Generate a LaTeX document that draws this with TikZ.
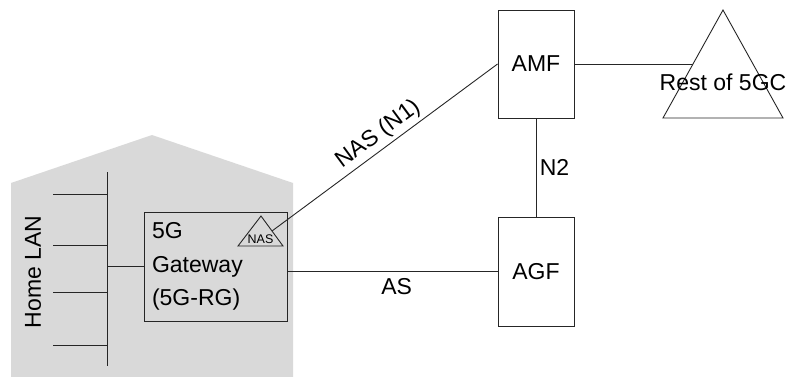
\documentclass[tikz,border=0pt]{standalone}
\usepackage{fontspec}
\setmainfont{Liberation Sans}
\usetikzlibrary{calc}

\newcommand{\busx}{107}
\newcommand{\corex}{723}

\tikzset{
  link/.style={draw=black!85, line width=0.9pt},
  box/.style={draw=black!85, line width=0.9pt, minimum width=76pt, minimum height=108pt},
}

\begin{document}
\begin{tikzpicture}[x=1pt, y=-1pt, font=\fontsize{23}{33.5}\selectfont]
\useasboundingbox (0,0) rectangle (792,377);

%% house
\fill[black!15] (11,377) -- (11,183) -- (152,135) -- (293,183) -- (293,377) -- cycle;

%% home LAN
\coordinate (bustop) at (\busx,172);
\coordinate (busend) at (\busx,366);
\draw[link] (bustop) -- (busend);
\foreach \y in {194,245,292,345}
  \draw[link] (53,\y) -- (\busx,\y);
\node[rotate=90] (lan) at (33,272) {Home LAN};

%% gateway
\node[box, minimum width=143pt, minimum height=109pt, text width=127pt,
      inner sep=8pt, align=left] (gw) at (215.5,266.5) {5G\\Gateway\\(5G-RG)};
\draw[link] (gw.west) -- (gw.west -| bustop);

%% NAS in the gateway
\coordinate (nastop) at (261,216);
\draw[link] (nastop) -- (283,246) -- (238,246) -- cycle;
\coordinate (nas) at ($(nastop)!0.5!(283,246)$);
\node[font=\fontsize{12.5}{14}\selectfont, inner sep=0pt] (nastext) at (260.5,239) {NAS};

%% AMF and AGF
\node[box] (amf) at (536,64) {AMF};
\node[box, minimum height=109pt] (agf) at (536,271.5) {AGF};

%% rest of 5GC
\coordinate (coretop) at (\corex,10);
\draw[link] (coretop) -- (783,118) -- (663,118) -- cycle;
\coordinate (core) at ($(coretop)!0.5!(663,118)$);
\node (coretext) at (\corex,82) {Rest of 5GC};

%% links
\draw[link] (nas) -- node[sloped, above, pos=0.51] (n1) {NAS (N1)} (amf.west);
\draw[link] (amf.east) -- (core);
\draw[link] (amf.south) -- node[right] (n2) {N2} (agf.north);
\draw[link] (agf.west) -- node[below, pos=0.48, yshift=-3pt] (as) {AS} (agf.west -| gw.east);

\end{tikzpicture}
\end{document}
